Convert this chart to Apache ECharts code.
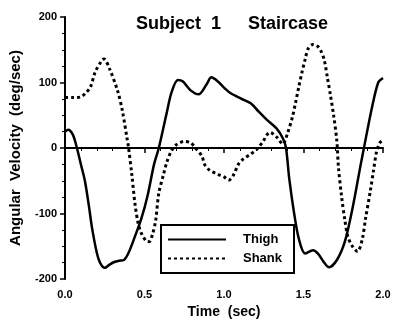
<!DOCTYPE html>
<html>
<head>
<meta charset="utf-8">
<script src="https://cdn.jsdelivr.net/npm/echarts@6/dist/echarts.min.js"></script>
<style>
html,body{margin:0;padding:0;background:#fff;}
#chart{width:394px;height:326px;}
</style>
</head>
<body>
<div id="chart"></div>
<script>
// ---- data ----
var titleLeft = 'Subject  1';
var titleRight = 'Staircase';
var xName = 'Time  (sec)';
var yName = 'Angular  Velocity  (deg/sec)';
var seriesNames = ['Thigh', 'Shank'];

var thighT = [0, 0.02, 0.05, 0.075, 0.1, 0.125, 0.15, 0.17, 0.2, 0.22, 0.25, 0.28, 0.31, 0.34, 0.37, 0.40, 0.44, 0.48, 0.52, 0.56, 0.59, 0.64, 0.67, 0.71, 0.74, 0.79, 0.84, 0.89, 0.92, 0.96, 1.01, 1.04, 1.11, 1.17, 1.22, 1.27, 1.33, 1.37, 1.39, 1.41, 1.44, 1.47, 1.51, 1.56, 1.59, 1.63, 1.66, 1.71, 1.76, 1.81, 1.86, 1.88, 1.93, 1.97, 2.0];
var thighV = [25, 28, 20, 0, -25, -50, -88, -122, -160, -175, -183, -178, -174, -172, -171, -160, -135, -108, -72, -25, 0, 54, 85, 104, 102, 88, 82, 97, 108, 102, 90, 84, 75, 68, 55, 43, 30, 15, 0, -46, -98, -138, -161, -156, -161, -175, -182, -171, -143, -90, -25, 0, 61, 100, 107];

var shankT = [0, 0.05, 0.1, 0.13, 0.16, 0.19, 0.23, 0.245, 0.28, 0.33, 0.36, 0.39, 0.40, 0.42, 0.44, 0.46, 0.48, 0.51, 0.53, 0.55, 0.57, 0.59, 0.62, 0.64, 0.67, 0.70, 0.75, 0.79, 0.82, 0.86, 0.88, 0.91, 0.96, 1.0, 1.03, 1.06, 1.09, 1.12, 1.17, 1.21, 1.24, 1.29, 1.33, 1.37, 1.40, 1.43, 1.45, 1.47, 1.49, 1.51, 1.53, 1.56, 1.59, 1.61, 1.63, 1.65, 1.67, 1.69, 1.71, 1.72, 1.74, 1.76, 1.78, 1.81, 1.84, 1.87, 1.89, 1.92, 1.94, 1.96, 1.98, 2.0];
var shankV = [77, 77, 78, 84, 93, 116, 133, 136, 121, 88, 58, 15, 0, -40, -85, -115, -130, -142, -143, -132, -111, -69, -40, -22, -4, 5, 10, 8, 0, -12, -26, -34, -40, -44, -49, -41, -25, -17, -9, -1, 8, 24, 17, 6, 23, 47, 69, 93, 115, 135, 152, 158, 155, 148, 135, 108, 80, 49, 10, -30, -75, -110, -136, -151, -158, -139, -108, -66, -35, -5, 8, 12];

var yTicks = [-200, -100, 0, 100, 200];
var xTicks = [0, 0.5, 1.0, 1.5, 2.0];

function pairs(t, v) { return t.map(function (x, i) { return [x, v[i]]; }); }

var FONT = "'Liberation Sans', Arial, Helvetica, sans-serif";
var chart = echarts.init(document.getElementById('chart'), null, {renderer: 'canvas'});
chart.setOption({
  animation: false,
  backgroundColor: '#fff',
  title: [
    {text: titleLeft, left: 131, top: 10, textStyle: {fontFamily: FONT, fontSize: 18, fontWeight: 'bold', color: '#000'}},
    {text: titleRight, left: 243, top: 10, textStyle: {fontFamily: FONT, fontSize: 18, fontWeight: 'bold', color: '#000'}}
  ],
  legend: {
    orient: 'vertical',
    left: 161, top: 225,
    padding: [8, 12, 8, 6],
    itemWidth: 58, itemHeight: 14, itemGap: 6,
    itemStyle: {color: 'rgba(0,0,0,0)', borderColor: 'rgba(0,0,0,0)', borderWidth: 0, opacity: 0},
    borderColor: '#000', borderWidth: 2, backgroundColor: '#fff',
    textStyle: {fontFamily: FONT, fontSize: 13, fontWeight: 'bold', color: '#000', padding: [0, 0, 0, 12]},
    data: seriesNames
  },
  grid: {left: 63, right: 11, top: 17, bottom: 47, containLabel: false},
  xAxis: {
    type: 'value', min: xTicks[0], max: xTicks[xTicks.length - 1], interval: 0.5,
    name: xName, nameLocation: 'middle', nameGap: 23,
    nameTextStyle: {fontFamily: FONT, fontSize: 14, fontWeight: 'bold', color: '#000'},
    axisLine: {show: true, lineStyle: {color: '#000', width: 2}},
    axisTick: {show: true, length: 5, lineStyle: {color: '#000', width: 1.5}},
    minorTick: {show: true, splitNumber: 5, length: 3, lineStyle: {color: '#000', width: 1}},
    axisLabel: {margin: 10, fontFamily: FONT, fontSize: 11, fontWeight: 'bold', color: '#000',
      formatter: function (v) { return v.toFixed(1); }},
    splitLine: {show: false}
  },
  yAxis: {
    type: 'value', min: yTicks[0], max: yTicks[yTicks.length - 1], interval: 100,
    name: yName, nameLocation: 'middle', nameGap: 42,
    nameTextStyle: {fontFamily: FONT, fontSize: 15, fontWeight: 'bold', color: '#000'},
    axisLine: {show: true, lineStyle: {color: '#000', width: 2}},
    axisTick: {show: true, length: 5, lineStyle: {color: '#000', width: 1.5}},
    minorTick: {show: true, splitNumber: 4, length: 3, lineStyle: {color: '#000', width: 1}},
    axisLabel: {margin: 8, fontFamily: FONT, fontSize: 11, fontWeight: 'bold', color: '#000'},
    splitLine: {show: false}
  },
  series: [
    {
      name: seriesNames[0], type: 'line', data: pairs(thighT, thighV),
      smooth: 0.3, symbol: 'none', showSymbol: false,
      lineStyle: {color: '#000', width: 2.5, type: 'solid'},
      itemStyle: {color: '#000'},
      markLine: {
        silent: true, symbol: 'none', label: {show: false},
        lineStyle: {color: '#000', width: 1.5, type: 'solid'},
        data: [{yAxis: 0}]
      }
    },
    {
      name: seriesNames[1], type: 'line', data: pairs(shankT, shankV),
      smooth: 0.3, symbol: 'none', showSymbol: false,
      lineStyle: {color: '#000', width: 3, type: [3, 3]},
      itemStyle: {color: '#000'}
    }
  ]
});
</script>
</body>
</html>
